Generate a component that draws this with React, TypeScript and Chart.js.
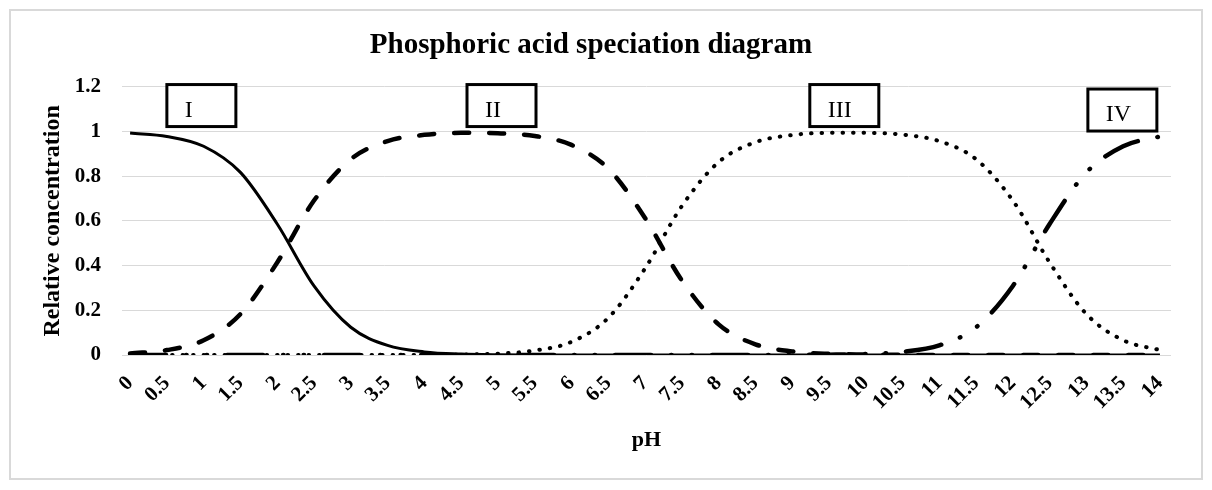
import { useEffect, useRef } from 'react';
import { Chart, registerables } from 'chart.js';

Chart.register(...registerables);

// pH categories on the x axis
const phValues = [0, 0.5, 1, 1.5, 2, 2.5, 3, 3.5, 4, 4.5, 5, 5.5, 6, 6.5, 7, 7.5, 8, 8.5, 9, 9.5, 10, 10.5, 11, 11.5, 12, 12.5, 13, 13.5, 14];

// y axis tick labels
const yTicks = [0, 0.2, 0.4, 0.6, 0.8, 1, 1.2];

// relative concentration of each species
const speciesI = [0.993, 0.978, 0.934, 0.817, 0.586, 0.309, 0.124, 0.043, 0.014, 0.004, 0.001, 0.0004, 0, 0, 0, 0, 0, 0, 0, 0, 0, 0, 0, 0, 0, 0, 0, 0, 0];
const speciesII = [0.007, 0.022, 0.066, 0.183, 0.414, 0.691, 0.876, 0.957, 0.985, 0.994, 0.992, 0.98, 0.94, 0.834, 0.613, 0.334, 0.137, 0.048, 0.016, 0.005, 0.002, 0.0005, 0, 0, 0, 0, 0, 0, 0];
const speciesIII = [0, 0, 0, 0, 0, 0, 0, 0.0002, 0.0006, 0.002, 0.006, 0.02, 0.059, 0.166, 0.387, 0.666, 0.863, 0.952, 0.984, 0.994, 0.994, 0.986, 0.957, 0.876, 0.691, 0.414, 0.183, 0.066, 0.022];
const speciesIV = [0, 0, 0, 0, 0, 0, 0, 0, 0, 0, 0, 0, 0, 0, 0, 0, 0, 0, 0.0004, 0.0014, 0.0044, 0.014, 0.043, 0.124, 0.309, 0.586, 0.817, 0.934, 0.978];

// boxed species labels and where they sit (pH of left edge, concentration of top edge)
const boxLabels = ['I', 'II', 'III', 'IV'];
const boxPH = [0.5, 4.58, 9.24, 13.02];
const boxTop = [1.21, 1.21, 1.21, 1.19];

const FONT = "'Liberation Serif', 'Times New Roman', serif";

const labelBoxes = {
  id: 'labelBoxes',
  afterDatasetsDraw(chart: Chart) {
    const { ctx, scales } = chart;
    ctx.save();
    boxLabels.forEach((text, i) => {
      const x = scales.x.getPixelForValue(boxPH[i]);
      const y = scales.y.getPixelForValue(boxTop[i]);
      ctx.fillStyle = '#fff';
      ctx.fillRect(x, y, 69, 42);
      ctx.lineWidth = 3;
      ctx.strokeStyle = '#000';
      ctx.strokeRect(x, y, 69, 42);
      ctx.fillStyle = '#000';
      ctx.font = `24px ${FONT}`;
      ctx.textBaseline = 'alphabetic';
      ctx.textAlign = 'left';
      ctx.fillText(text, x + 18, y + 32);
    });
    ctx.restore();
  },
};

export default function App() {
  const canvasRef = useRef<HTMLCanvasElement>(null);

  useEffect(() => {
    if (!canvasRef.current) return;
    const toPoints = (vals: number[]) => phValues.map((x, i) => ({ x, y: vals[i] }));
    const line = { pointRadius: 0, borderColor: '#000', cubicInterpolationMode: 'monotone' as const, fill: false };

    const chart = new Chart(canvasRef.current, {
      type: 'line',
      data: {
        datasets: [
          { ...line, label: 'I', data: toPoints(speciesI), borderWidth: 3 },
          { ...line, label: 'II', data: toPoints(speciesII), borderWidth: 4.5, borderDash: [15, 20], borderCapStyle: 'round' },
          { ...line, label: 'III', data: toPoints(speciesIII), borderWidth: 4, borderDash: [0.5, 10], borderCapStyle: 'round' },
          { ...line, label: 'IV', data: toPoints(speciesIV), borderWidth: 4.5, borderDash: [36, 20, 0.5, 20, 0.5, 20], borderCapStyle: 'round' },
        ],
      },
      options: {
        animation: false,
        responsive: true,
        maintainAspectRatio: false,
        layout: { padding: { left: 0, right: 30, top: 0, bottom: 0 } },
        plugins: {
          legend: { display: false },
          tooltip: { enabled: false },
          title: {
            display: true,
            text: 'Phosphoric acid speciation diagram',
            color: '#000',
            font: { family: FONT, size: 29, weight: 'bold' },
            padding: { top: 17, bottom: 24 },
          },
        },
        scales: {
          x: {
            type: 'linear',
            min: -0.11,
            max: 14.15,
            afterBuildTicks: (axis) => {
              axis.ticks = phValues.map((value) => ({ value }));
            },
            afterFit: (scale) => {
              scale.height = 123;
            },
            grid: { display: false, drawTicks: false },
            border: { display: false },
            ticks: {
              autoSkip: false,
              minRotation: 45,
              maxRotation: 45,
              padding: 16,
              color: '#000',
              font: { family: FONT, size: 21, weight: 'bold' },
              callback: (v) => String(v),
            },
            title: {
              display: true,
              text: 'pH',
              color: '#000',
              font: { family: FONT, size: 22, weight: 'bold' },
              padding: { top: 0, bottom: 24 },
            },
          },
          y: {
            min: 0,
            max: 1.2,
            afterBuildTicks: (axis) => {
              axis.ticks = yTicks.map((value) => ({ value }));
            },
            afterFit: (scale) => {
              scale.width = 111;
            },
            grid: { color: '#d9d9d9', lineWidth: 1, drawTicks: false },
            border: { display: false },
            ticks: {
              padding: 21,
              color: '#000',
              font: { family: FONT, size: 21, weight: 'bold' },
              callback: (v) => String(v),
            },
            title: {
              display: true,
              text: 'Relative concentration',
              color: '#000',
              font: { family: FONT, size: 24, weight: 'bold' },
              padding: { top: 27, bottom: 0 },
            },
          },
        },
      },
      plugins: [labelBoxes],
    });

    return () => chart.destroy();
  }, []);

  return (
    <div
      style={{
        position: 'absolute',
        left: 9,
        top: 9,
        width: 1194,
        height: 471,
        boxSizing: 'border-box',
        border: '2px solid #d9d9d9',
        background: '#fff',
      }}
    >
      <div style={{ position: 'relative', width: 1190, height: 467 }}>
        <canvas ref={canvasRef} />
      </div>
    </div>
  );
}
